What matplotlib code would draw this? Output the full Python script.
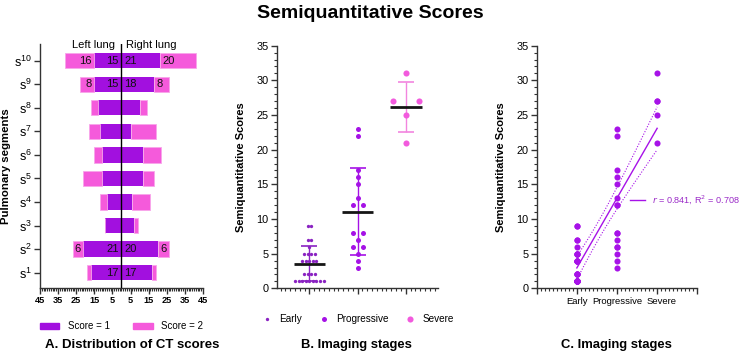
import numpy as np
import matplotlib
matplotlib.use("Agg")
import matplotlib.pyplot as plt
from matplotlib.patches import Patch
from matplotlib.lines import Line2D
from matplotlib.ticker import MultipleLocator
from matplotlib.transforms import ScaledTranslation

plt.rcParams['font.family'] = ['Liberation Sans', 'DejaVu Sans']

# ---------------- data ----------------
segments = [1, 2, 3, 4, 5, 6, 7, 8, 9, 10]
left_score1 = [17, 21, 9, 8, 11, 11, 12, 13, 15, 15]
left_score2 = [2, 6, 0, 4, 10, 4, 6, 4, 8, 16]
right_score1 = [17, 20, 7, 6, 12, 12, 5, 10, 18, 21]
right_score2 = [2, 6, 2, 10, 6, 10, 14, 4, 8, 20]
labeled_segments = [1, 2, 9, 10]
xtick_values_A = [-45, -35, -25, -15, -5, 5, 15, 25, 35, 45]

stages = ['Early', 'Progressive', 'Severe']
early = [1, 1, 1, 1, 1, 1, 1, 1, 1, 2, 2, 2, 2, 4, 4, 4, 4, 4, 5, 5, 5, 5, 6, 7, 7, 9, 9]
progressive = [3, 4, 5, 6, 6, 7, 8, 8, 12, 12, 13, 15, 16, 17, 22, 23]
severe = [21, 25, 27, 27, 31]
fit_label = r'$r$ = 0.841, R$^2$ = 0.708'

# ---------------- style ----------------
PURPLE = '#A210DF'
PINK = '#F55ADB'
EARLY_C = '#8A22C2'
PROG_C = '#A512E6'
SEV_C = '#F25ADD'
SEV_ERR = '#F285DF'
C_PTS = '#A712E8'
AX_C = '#333333'

fig = plt.figure(figsize=(7.4, 3.53), dpi=100)

def style_axes(ax):
    for s in ['top', 'right']:
        ax.spines[s].set_visible(False)
    for s in ['left', 'bottom']:
        ax.spines[s].set_color(AX_C)
        ax.spines[s].set_linewidth(1.0)
    ax.tick_params(which='major', length=4, width=1, color=AX_C, pad=2)
    ax.tick_params(which='minor', length=2, width=0.8, color=AX_C)

# ---------------- Panel A ----------------
axA = fig.add_axes([40/740, 1-288/353, 163/740, 244/353])
style_axes(axA)
seg = np.array(segments)
L1 = np.array(left_score1); L2 = np.array(left_score2)
R1 = np.array(right_score1); R2 = np.array(right_score2)
h = 0.65
axA.barh(seg, -L1, height=h, color=PURPLE, zorder=2)
axA.barh(seg, -L2, left=-L1, height=h, color=PINK, edgecolor='#F8A6EA', linewidth=0.6, zorder=2)
axA.barh(seg, R1, height=h, color=PURPLE, zorder=2)
axA.barh(seg, R2, left=R1, height=h, color=PINK, edgecolor='#F8A6EA', linewidth=0.6, zorder=2)
axA.axvline(0, color='black', lw=1.0, zorder=3)
for s in labeled_segments:
    i = segments.index(s)
    kw = dict(fontsize=8, va='center', color='#111111', zorder=4)
    if L1[i] >= 5:
        axA.annotate(str(L1[i]), (0, s), xytext=(-2, 0), textcoords='offset points', ha='right', **kw)
    if L2[i] >= 5:
        axA.annotate(str(L2[i]), (-L1[i], s), xytext=(-2, 0), textcoords='offset points', ha='right', **kw)
    if R1[i] >= 5:
        axA.annotate(str(R1[i]), (0, s), xytext=(2, 0), textcoords='offset points', ha='left', **kw)
    if R2[i] >= 5:
        axA.annotate(str(R2[i]), (R1[i], s), xytext=(2, 0), textcoords='offset points', ha='left', **kw)
axA.set_xlim(-45, 45)
axA.set_ylim(0.35, 10.71)
axA.set_xticks(xtick_values_A)
axA.set_xticklabels([str(abs(v)) for v in xtick_values_A], fontweight='bold', fontsize=6.6)
axA.xaxis.set_minor_locator(MultipleLocator(1))
axA.tick_params(axis='x', which='minor', length=2.5)
axA.set_yticks(segments)
axA.set_yticklabels([r'$\mathregular{s^{%d}}$' % s for s in segments], fontsize=9)
axA.set_ylabel('Pulmonary segments', fontweight='bold', fontsize=8.2, labelpad=2)
axA.text(-3.5, 0.985, 'Left lung', transform=axA.get_xaxis_transform(), ha='right', va='baseline', fontsize=8)
axA.text(2.5, 0.985, 'Right lung', transform=axA.get_xaxis_transform(), ha='left', va='baseline', fontsize=8)
legA = axA.legend(handles=[Patch(color=PURPLE), Patch(color=PINK)], labels=['Score = 1', 'Score = 2'],
                  loc='upper center', bbox_to_anchor=(0.5, -0.10), ncol=2, frameon=False,
                  prop={'size': 7}, handlelength=2.0, handleheight=0.6,
                  columnspacing=2.4, handletextpad=0.9)

# ---------------- Panel B ----------------
axB = fig.add_axes([276.7/740, 1-288.3/353, 161.3/740, 242.6/353])
style_axes(axB)
groups = [early, progressive, severe]
colors = [EARLY_C, PROG_C, SEV_C]
errc = [EARLY_C, PROG_C, SEV_ERR]
msizes = [2.4, 3.6, 4.4]
spacing = [0.073, 0.21, 0.54]
for gi, (vals, col, ms, sp) in enumerate(zip(groups, colors, msizes, spacing)):
    vals = np.array(vals)
    xs = np.zeros(len(vals), dtype=float)
    for v in np.unique(vals):
        idx = np.where(vals == v)[0]
        k = len(idx)
        xs[idx] = gi + (np.arange(k) - (k - 1) / 2) * sp
    axB.plot(xs, vals, 'o', ms=ms, color=col, mec='none', zorder=3, label=stages[gi])
    m = vals.mean(); sd = vals.std(ddof=1)
    axB.errorbar(gi, m, yerr=sd, color=errc[gi], capsize=5.5, capthick=1.2, elinewidth=1.0, zorder=2)
    axB.hlines(m, gi - 0.33, gi + 0.33, color='#151515', lw=2.0, zorder=4)
axB.set_xlim(-0.68, 2.67)
axB.set_ylim(0, 35)
axB.set_xticks([0, 1, 2])
axB.set_xticklabels([])
axB.xaxis.set_minor_locator(MultipleLocator(0.1))
axB.set_yticks(range(0, 36, 5))
axB.set_yticklabels([str(v) for v in range(0, 36, 5)], fontsize=7.8)
axB.yaxis.set_minor_locator(MultipleLocator(1))
axB.set_ylabel('Semiquantitative Scores', fontweight='bold', fontsize=8, labelpad=7)
axB.legend(loc='upper center', bbox_to_anchor=(0.5, -0.07), ncol=3, frameon=False,
           prop={'size': 7.2}, handletextpad=0.6, columnspacing=1.6, handlelength=1.2)

# ---------------- Panel C ----------------
axC = fig.add_axes([536.7/740, 1-288.3/353, 160.6/740, 242.6/353])
style_axes(axC)
xall = []
yall = []
for gi, vals in enumerate(groups):
    xall += [gi + 1] * len(vals)
    yall += list(vals)
xall = np.array(xall, float); yall = np.array(yall, float)
axC.plot(xall, yall, 'o', ms=4.4, color=C_PTS, mec='none', zorder=3)
slope, icpt = np.polyfit(xall, yall, 1)
n = len(xall)
resid = yall - (slope * xall + icpt)
s_err = np.sqrt(np.sum(resid ** 2) / (n - 2))
xm = xall.mean(); sxx = np.sum((xall - xm) ** 2)
t_crit = 2.013  # 95% two-sided, df = n-2
xf = np.linspace(1, 3, 60)
yf = slope * xf + icpt
band = t_crit * s_err * np.sqrt(1 / n + (xf - xm) ** 2 / sxx)
axC.plot(xf, yf, color=C_PTS, lw=1.0, zorder=2)
axC.plot(xf, yf + band, color=C_PTS, lw=0.8, ls=(0, (1, 1.5)), zorder=2)
axC.plot(xf, yf - band, color=C_PTS, lw=0.8, ls=(0, (1, 1.5)), zorder=2)
axC.set_xlim(0, 4)
axC.set_ylim(0, 35)
axC.set_xticks([0, 1, 2, 3, 4])
axC.set_xticklabels(['', 'Early', 'Progressive', 'Severe', ''], fontsize=6.8)
lab = axC.get_xticklabels()[3]
lab.set_transform(lab.get_transform() + ScaledTranslation(4/100, 0, fig.dpi_scale_trans))
axC.xaxis.set_minor_locator(MultipleLocator(0.1))
axC.set_yticks(range(0, 36, 5))
axC.set_yticklabels([str(v) for v in range(0, 36, 5)], fontsize=7.8)
axC.yaxis.set_minor_locator(MultipleLocator(1))
axC.set_ylabel('Semiquantitative Scores', fontweight='bold', fontsize=8, labelpad=7)
legC = axC.legend(handles=[Line2D([], [], color=C_PTS, lw=1.0)], labels=[fit_label],
                  loc='center left', bbox_to_anchor=(0.58, 0.364), frameon=False,
                  prop={'size': 6.6}, handlelength=1.7, handletextpad=0.7,
                  borderaxespad=0, borderpad=0)
for t in legC.get_texts():
    t.set_color('#9B2BC8')

# ---------------- titles ----------------
fig.text(0.5, 0.962, 'Semiquantitative Scores', ha='center', va='center', fontsize=14,
         fontweight='bold')
fig.text(132/740, 1-345/353, 'A. Distribution of CT scores', ha='center', va='center', fontsize=9.5, fontweight='bold')
fig.text(356.7/740, 1-345/353, 'B. Imaging stages', ha='center', va='center', fontsize=9.4, fontweight='bold')
fig.text(616.7/740, 1-345/353, 'C. Imaging stages', ha='center', va='center', fontsize=9.4, fontweight='bold')

fig.savefig('out.png', dpi=100)
